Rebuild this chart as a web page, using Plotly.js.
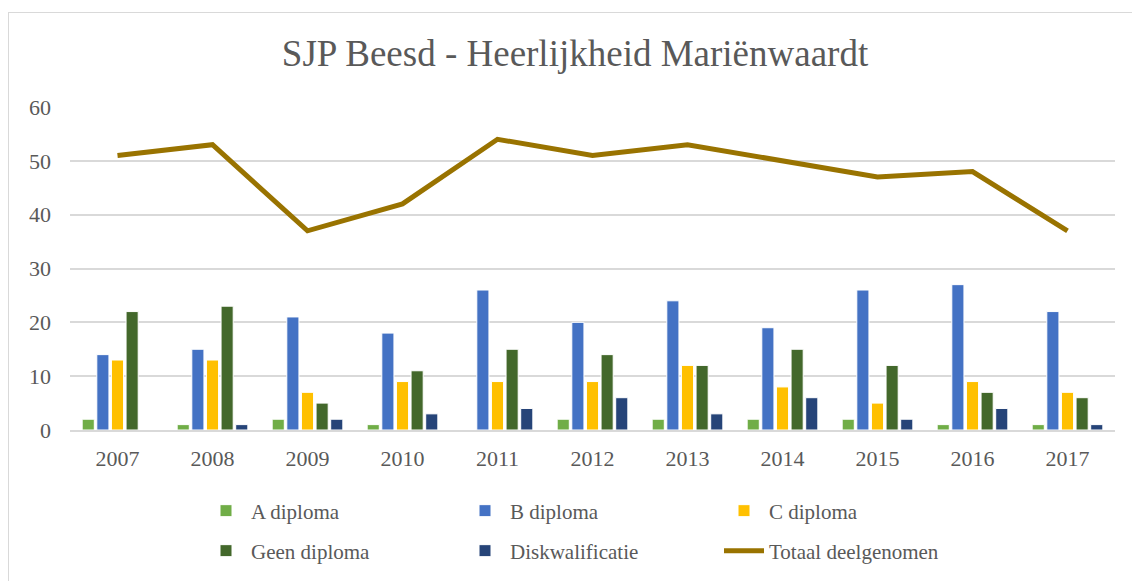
<!DOCTYPE html>
<html>
<head>
<meta charset="utf-8">
<script src="https://cdn.plot.ly/plotly-3.0.1.min.js"></script>
<style>
html,body{margin:0;padding:0;background:#fff;}
#wrap{position:relative;width:1132px;height:581px;}
#chart{position:absolute;left:0;top:0;width:1132px;height:581px;}
#frame{position:absolute;left:8px;top:12px;width:1130px;height:575px;border:1.5px solid #d9d9d9;box-sizing:border-box;pointer-events:none;}
</style>
</head>
<body>
<div id="wrap"><div id="chart"></div><div id="frame"></div></div>
<script>
const years = ['2007','2008','2009','2010','2011','2012','2013','2014','2015','2016','2017'];
const aDiploma = [2,1,2,1,0,2,2,2,2,1,1];
const bDiploma = [14,15,21,18,26,20,24,19,26,27,22];
const cDiploma = [13,13,7,9,9,9,12,8,5,9,7];
const geenDiploma = [22,23,5,11,15,14,12,15,12,7,6];
const diskwalificatie = [0,1,2,3,4,6,3,6,2,4,1];
const totaal = [51,53,37,42,54,51,53,50,47,48,37];

const FONT = '"Liberation Serif", serif';
const GRAY = '#595959';

function bar(name, y, color, legend) {
  return {type:'bar', name:name, x:years, y:y, legend:legend,
    marker:{color:color, line:{color:'#ffffff', width:1}}, hoverinfo:'x+y+name'};
}

const traces = [
  bar('A diploma', aDiploma, '#70AD47', 'legend'),
  bar('B diploma', bDiploma, '#4472C4', 'legend2'),
  bar('C diploma', cDiploma, '#FFC000', 'legend3'),
  bar('Geen diploma', geenDiploma, '#43682B', 'legend4'),
  bar('Diskwalificatie', diskwalificatie, '#264478', 'legend5'),
  {type:'scatter', mode:'lines', name:'Totaal deelgenomen', x:years, y:totaal, legend:'legend6',
    line:{color:'#997300', width:5}}
];

function leg(px, py) {
  return {orientation:'h', xref:'container', yref:'container', xanchor:'left', yanchor:'middle',
    x:px/1132, y:(581-py)/581,
    font:{family:FONT, size:21, color:GRAY}, bgcolor:'rgba(0,0,0,0)', itemwidth:40};
}

const layout = {
  width:1132, height:581,
  margin:{l:70, r:17, t:107, b:151},
  paper_bgcolor:'#ffffff', plot_bgcolor:'#ffffff',
  title:{text:'SJP Beesd - Heerlijkheid Mariënwaardt', x:575/1132, xanchor:'center',
    xref:'container', y:(581-53)/581, yanchor:'middle',
    font:{family:FONT, size:37, color:GRAY}},
  font:{family:FONT, color:GRAY},
  barmode:'group', bargap:0.23, bargroupgap:0.17,
  xaxis:{type:'category', showgrid:false, showline:true, linecolor:'#d9d9d9', linewidth:2,
    ticks:'', tickfont:{family:FONT, size:22, color:GRAY}, ticklabelstandoff:8, fixedrange:true},
  yaxis:{range:[0,60], dtick:10, tick0:0, showgrid:true, gridcolor:'#d9d9d9', gridwidth:1.5,
    zeroline:false, showline:false, ticks:'', tickfont:{family:FONT, size:22, color:GRAY},
    ticklabelstandoff:18, fixedrange:true},
  legend:leg(201, 511),
  legend2:leg(460, 511),
  legend3:leg(719, 511),
  legend4:leg(201, 551),
  legend5:leg(460, 551),
  legend6:leg(719, 551),
  showlegend:true
};

Plotly.newPlot('chart', traces, layout, {displayModeBar:false});
</script>
</body>
</html>
